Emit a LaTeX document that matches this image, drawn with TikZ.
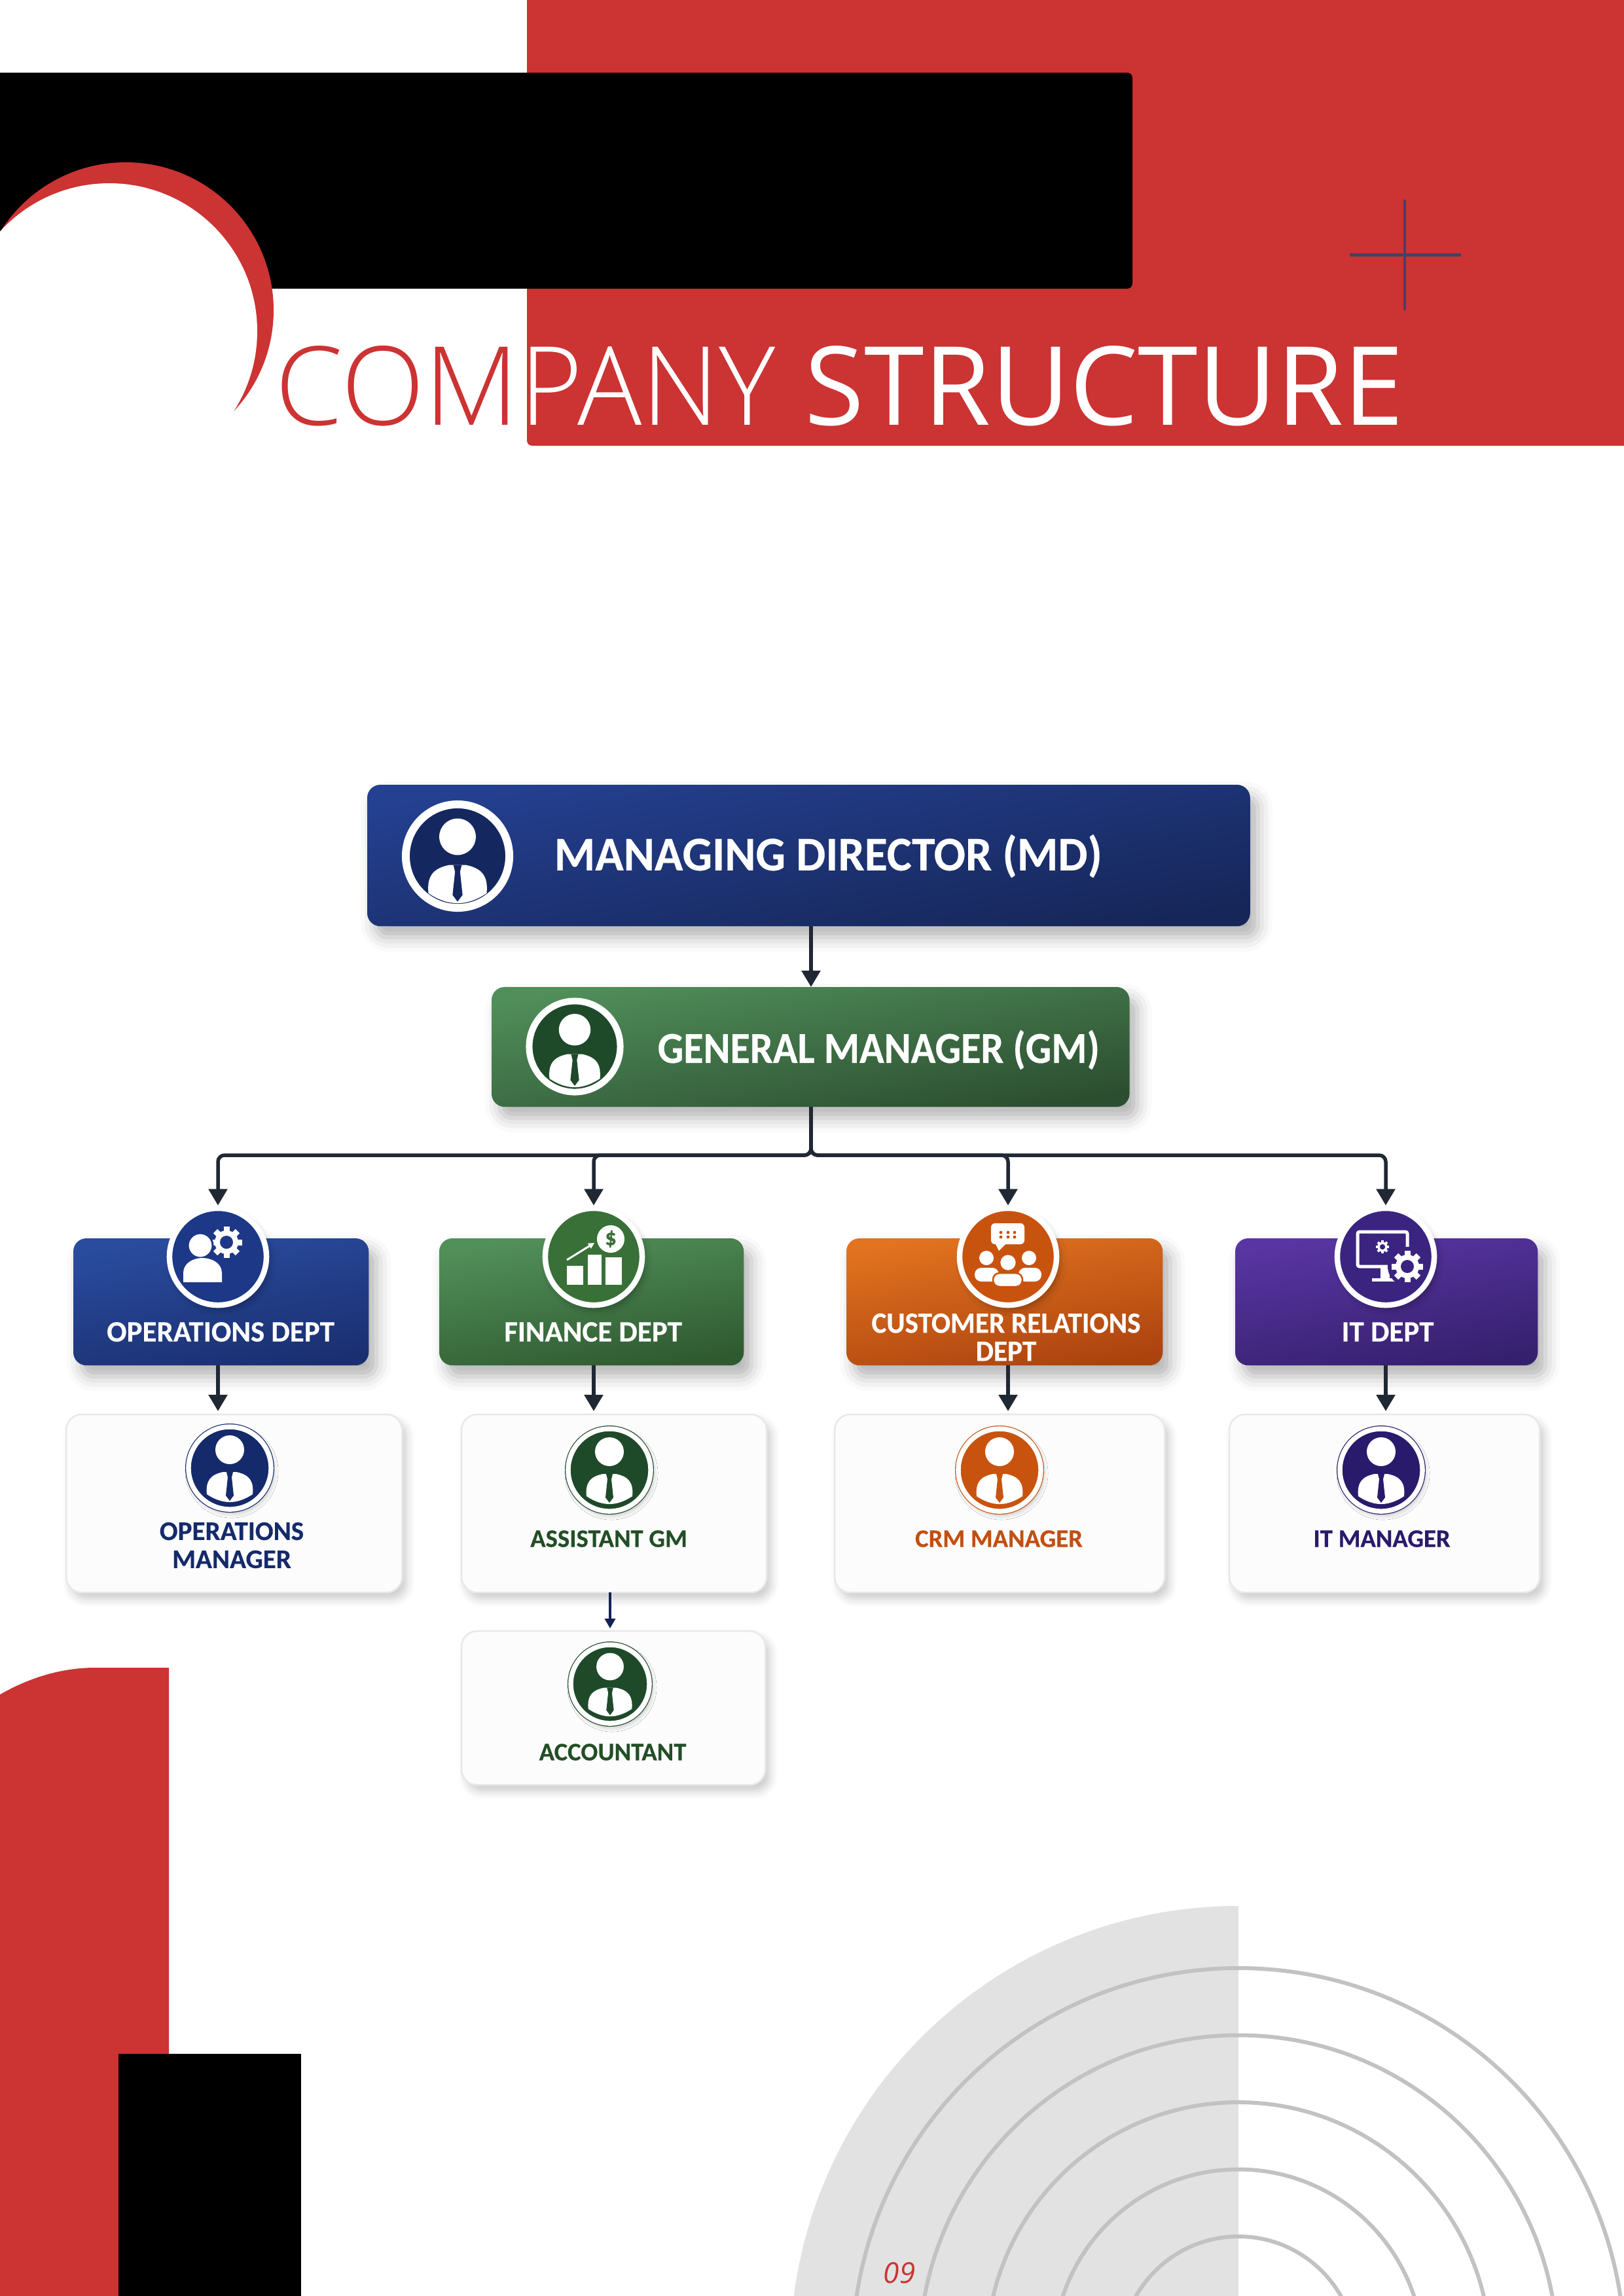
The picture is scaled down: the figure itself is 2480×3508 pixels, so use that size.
\documentclass[tikz,border=0pt]{standalone}
\usepackage{fontspec}
\setmainfont{Carlito}[BoldFeatures={FakeBold=0.3}]
\newfontfamily\titlefont{Open Sans Light}
\newfontfamily\plainfont{Open Sans}
\usetikzlibrary{arrows.meta, positioning, shapes.geometric, shadows.blur}

\begin{document}
\begin{tikzpicture}[
    x=0.01cm, y=-0.01cm,
    softshadow/.style={blur shadow={shadow xshift=0.12cm, shadow yshift=-0.17cm, shadow blur radius=0.22cm, shadow opacity=30}},
    topbox/.style n args={2}{
      rectangle, rounded corners=0.2cm, anchor=north west, outer sep=0pt,
      top color=#1, bottom color=#2, shading angle=10, softshadow
    },
    mgrbox/.style={
      rectangle, rounded corners=0.24cm, anchor=north west, outer sep=0pt,
      fill=white!99!black, draw=black!9, line width=0.025cm,
      blur shadow={shadow xshift=0.07cm, shadow yshift=-0.1cm, shadow blur radius=0.12cm, shadow opacity=20}
    },
    headring/.style={circle, draw=white, line width=0.12cm, fill=#1},
    deptring/.style={circle, draw=white, line width=0.085cm, fill=#1, minimum size=1.48cm,
      blur shadow={shadow xshift=0.05cm, shadow yshift=-0.07cm, shadow blur radius=0.1cm, shadow opacity=30}},
    mgrring/.style={
      circle, draw=#1, fill=#1, line width=0.012cm, double=white, double distance=0.075cm, minimum size=1.26cm,
      blur shadow={shadow xshift=0.03cm, shadow yshift=-0.05cm, shadow blur radius=0.08cm, shadow opacity=30}
    },
    toplabel/.style={font=\bfseries, text=white, inner sep=0pt, align=center},
    mgrlabel/.style={font=\bfseries\fontsize{11}{11.8}\selectfont, text=#1, inner sep=0pt, align=center},
    arr/.style={-{Triangle[length=0.25cm, width=0.28cm]}, draw=lineDark, line width=0.055cm},
    pics/person/.style={code={
      \fill[white] (0,-28) circle (22);
      \fill[white] (-35,40) .. controls (-37,20) and (-30,10) .. (-10,6) -- (10,6) .. controls (30,10) and (37,20) .. (35,40)
        .. controls (20,50) and (8,52) .. (0,52) .. controls (-8,52) and (-20,50) .. (-35,40) -- cycle;
      \fill[#1] (-5,6) -- (5,6) -- (3,14) -- (6,42) -- (0,50) -- (-6,42) -- (-3,14) -- cycle;
    }},
    pics/gearwheel/.style={code={
      \foreach \a in {0,45,...,315} {
        \fill[white, rotate=\a] (-4.5,-24) rectangle (4.5,-15);
      }
      \fill[white] (0,0) circle (18);
      \fill[#1] (0,0) circle (10);
    }}
  ]
    \definecolor{brandRed}{RGB}{204,51,51}
    \definecolor{crossInk}{RGB}{68,68,96}
    \definecolor{lineDark}{RGB}{32,40,52}
    \definecolor{navyTop}{RGB}{36,64,145}
    \definecolor{navyLow}{RGB}{22,38,88}
    \definecolor{navyFill}{RGB}{20,39,95}
    \definecolor{blueTop}{RGB}{42,76,159}
    \definecolor{blueLow}{RGB}{26,47,112}
    \definecolor{blueFill}{RGB}{28,56,135}
    \definecolor{blueInk}{RGB}{21,42,107}
    \definecolor{greenTop}{RGB}{80,142,90}
    \definecolor{greenLow}{RGB}{44,78,48}
    \definecolor{greenFill}{RGB}{31,74,42}
    \definecolor{financeTop}{RGB}{82,144,90}
    \definecolor{financeLow}{RGB}{47,90,48}
    \definecolor{financeFill}{RGB}{56,112,56}
    \definecolor{greenInk}{RGB}{35,78,38}
    \definecolor{orangeTop}{RGB}{226,115,31}
    \definecolor{orangeLow}{RGB}{172,67,15}
    \definecolor{orangeFill}{RGB}{200,83,15}
    \definecolor{orangeInk}{RGB}{194,79,16}
    \definecolor{purpleTop}{RGB}{89,53,163}
    \definecolor{purpleLow}{RGB}{53,32,109}
    \definecolor{purpleFill}{RGB}{58,36,128}
    \definecolor{purpleInk}{RGB}{42,26,108}
    \definecolor{ringGrey}{RGB}{194,194,194}
    \definecolor{discGrey}{RGB}{226,226,226}

    \useasboundingbox (0,0) rectangle (2480,3508);

    % header shapes
    \fill[brandRed, rounded corners=0.08cm] (805,-30) rectangle (2520,681);
    \fill[black, rounded corners=0.08cm] (-30,111) rectangle (1730,441);
    \fill[brandRed] (192,474) circle (226);
    \fill[white] (167,506) circle (226);
    \draw[crossInk, line width=0.032cm] (2146,305) -- (2146,474);
    \draw[crossInk, line width=0.05cm] (2062,389) -- (2232,389);

    \node[font=\titlefont\fontsize{47.5}{50}\selectfont, text=brandRed, inner sep=0pt, anchor=base west] (titlecom) at (420,649) {COM};
    \node[font=\titlefont\fontsize{47.5}{50}\selectfont\addfontfeature{FakeStretch=0.98}, text=white, inner sep=0pt, anchor=base west] (titlepany) at (titlecom.base east) {PANY};
    \node[font=\plainfont\fontsize{47.5}{50}\selectfont\addfontfeature{FakeStretch=0.99}, text=white, inner sep=0pt, anchor=base west] (titlestruct) at (1229,649) {STRUCTURE};

    % footer shapes
    \fill[brandRed] (0,2589) .. controls (45,2563) and (95,2548) .. (145,2548) -- (258,2548) -- (258,3520) -- (0,3520) -- cycle;
    \fill[black] (181,3138) rectangle (460,3520);

    \begin{scope}
      \clip (0,0) rectangle (1892,3508);
      \fill[discGrey] (1892,3597) circle (685);
    \end{scope}
    \begin{scope}
      \clip (0,0) rectangle (2480,3508);
      \foreach \r in {590,487.5,385,282.5,180} {
        \draw[ringGrey, line width=0.06cm] (1892,3597) circle (\r);
      }
    \end{scope}
    \node[font=\plainfont\itshape\fontsize{12.5}{14}\selectfont, text=brandRed, inner sep=0pt] (pageno) at (1374,3473) {09};

    % connectors sit under the boxes
    \coordinate (bus) at (1239,1765);

    % top level
    \node[topbox={navyTop}{navyLow}, minimum width=13.48cm, minimum height=2.16cm] (md) at (561,1199) {};
    \node[headring=navyFill, minimum size=1.58cm] (mdicon) at (699,1308) {};
    \pic[scale=1.27] at (699,1314) {person=navyFill};
    \node[toplabel, font=\bfseries\fontsize{21}{24}\selectfont\addfontfeature{FakeStretch=0.97}, anchor=west] (mdlabel) at (846,1308) {MANAGING DIRECTOR (MD)};

    \node[topbox={greenTop}{greenLow}, minimum width=9.74cm, minimum height=1.83cm] (gm) at (751,1508) {};
    \node[headring=greenFill, minimum size=1.39cm, line width=0.1cm] (gmicon) at (878,1599) {};
    \pic[scale=1.1] at (878,1604) {person=greenFill};
    \node[toplabel, font=\bfseries\fontsize{19.2}{22}\selectfont\addfontfeature{FakeStretch=0.92}, anchor=west] (gmlabel) at (1004,1604) {GENERAL MANAGER (GM)};

    % departments
    \node[topbox={blueTop}{blueLow}, minimum width=4.51cm, minimum height=1.94cm] (ops) at (112,1892) {};
    \node[topbox={financeTop}{financeLow}, minimum width=4.65cm, minimum height=1.94cm] (fin) at (671,1892) {};
    \node[topbox={orangeTop}{orangeLow}, minimum width=4.83cm, minimum height=1.94cm] (crm) at (1293,1892) {};
    \node[topbox={purpleTop}{purpleLow}, minimum width=4.62cm, minimum height=1.94cm] (itd) at (1887,1892) {};

    \node[deptring=blueFill] (opsicon) at (333,1920) {};
    \node[deptring=financeFill] (finicon) at (907,1920) {};
    \node[deptring=orangeFill] (crmicon) at (1540,1920) {};
    \node[deptring=purpleFill] (iticon) at (2117,1920) {};

    \node[toplabel, font=\bfseries\fontsize{12.8}{15.2}\selectfont] (opslabel) at (337,2035) {OPERATIONS DEPT};
    \node[toplabel, font=\bfseries\fontsize{12.8}{15.2}\selectfont] (finlabel) at (906,2035) {FINANCE DEPT};
    \node[toplabel, font=\bfseries\fontsize{12.8}{12.2}\selectfont\addfontfeature{FakeStretch=0.96}] (crmlabel) at (1537,2043) {CUSTOMER RELATIONS\\DEPT};
    \node[toplabel, font=\bfseries\fontsize{12.8}{15.2}\selectfont] (itlabel) at (2120,2035) {IT DEPT};

    % operations glyph
    \pic at (346,1898) {gearwheel=blueFill};
    \fill[white, draw=blueFill, line width=0.03cm] (306,1903) circle (19);
    \fill[white] (280,1959) -- (280,1945) .. controls (280,1930) and (295,1922) .. (309,1922) .. controls (324,1922) and (339,1930) .. (339,1945) -- (339,1959) -- cycle;

    % finance glyph
    \fill[white] (866,1934) rectangle (891,1963);
    \fill[white] (898,1917) rectangle (919,1963);
    \fill[white] (925,1921) rectangle (950,1963);
    \draw[white, line width=0.03cm, -{Triangle[length=0.09cm, width=0.09cm]}] (866,1925) -- (908,1899);
    \node[circle, fill=white, minimum size=0.42cm, inner sep=0pt, text=financeFill, font=\bfseries\fontsize{10}{10}\selectfont] (coin) at (933,1893) {\$};

    % customer glyph
    \fill[white, rounded corners=0.06cm] (1514,1869) rectangle (1565,1901);
    \fill[white] (1520,1899) -- (1526,1911) -- (1538,1899) -- cycle;
    \foreach \px in {1529,1540,1550} {
      \foreach \py in {1883,1890} {
        \fill[orangeFill] (\px,\py) circle (2.4);
      }
    }
    \fill[white] (1507,1922) circle (11);
    \fill[white] (1572,1922) circle (11);
    \fill[white, rounded corners=0.1cm] (1489,1958) -- (1489,1937) -- (1526,1937) -- (1526,1958) -- cycle;
    \fill[white, rounded corners=0.1cm] (1556,1958) -- (1556,1937) -- (1591,1937) -- (1591,1958) -- cycle;
    \fill[white, draw=orangeFill, line width=0.025cm] (1540,1929) circle (13);
    \fill[white, draw=orangeFill, line width=0.025cm, rounded corners=0.1cm] (1517,1966) -- (1517,1945) -- (1562,1945) -- (1562,1966) -- cycle;

    % it glyph
    \draw[white, line width=0.05cm, rounded corners=0.03cm] (2074,1882) rectangle (2150,1935);
    \fill[white] (2109,1937) rectangle (2123,1955);
    \fill[white] (2096,1953) rectangle (2134,1958);
    \pic[scale=0.42] at (2112,1905) {gearwheel=purpleFill};
    \fill[purpleFill] (2150,1935) circle (30);
    \pic at (2150,1935) {gearwheel=purpleFill};

    % managers
    \node[mgrbox, minimum width=5.13cm, minimum height=2.72cm] (opsmgr) at (101,2161) {};
    \node[mgrbox, minimum width=4.66cm, minimum height=2.72cm] (finmgr) at (705,2161) {};
    \node[mgrbox, minimum width=5.04cm, minimum height=2.72cm] (crmmgr) at (1275,2161) {};
    \node[mgrbox, minimum width=4.74cm, minimum height=2.72cm] (itmgr) at (1878,2161) {};
    \node[mgrbox, minimum width=4.64cm, minimum height=2.35cm] (acct) at (705,2492) {};

    \node[mgrring=blueInk] (opsmgricon) at (351,2243) {};
    \node[mgrring=greenFill] (finmgricon) at (931,2246) {};
    \node[mgrring=orangeFill] (crmmgricon) at (1527,2246) {};
    \node[mgrring=purpleInk] (itmgricon) at (2110,2246) {};
    \node[mgrring=greenFill, minimum size=1.2cm] (accticon) at (932,2573) {};

    \pic at (351,2243) {person=blueInk};
    \pic at (931,2246) {person=greenFill};
    \pic at (1527,2246) {person=orangeFill};
    \pic at (2110,2246) {person=purpleInk};
    \pic[scale=0.95] at (932,2573) {person=greenFill};

    \node[mgrlabel=blueInk, font=\bfseries\fontsize{11.7}{12.2}\selectfont] (opsmgrlabel) at (354,2361) {OPERATIONS\\MANAGER};
    \node[mgrlabel=greenInk] (finmgrlabel) at (930,2351) {ASSISTANT GM};
    \node[mgrlabel=orangeInk] (crmmgrlabel) at (1526,2351) {CRM MANAGER};
    \node[mgrlabel=purpleInk] (itmgrlabel) at (2111,2351) {IT MANAGER};
    \node[mgrlabel=greenInk] (acctlabel) at (936,2677) {ACCOUNTANT};

    % connectors
    \draw[arr] (md.south -| bus) -- (gm.north -| bus);
    \draw[arr, rounded corners=0.1cm] (gm.south -| bus) -- (bus) -| (opsicon.north);
    \draw[arr, rounded corners=0.1cm] (gm.south -| bus) -- (bus) -| (finicon.north);
    \draw[arr, rounded corners=0.1cm] (gm.south -| bus) -- (bus) -| (crmicon.north);
    \draw[arr, rounded corners=0.1cm] (gm.south -| bus) -- (bus) -| (iticon.north);

    \draw[arr, shorten >=0.05cm] (opsicon |- ops.south) -- (opsicon |- opsmgr.north);
    \draw[arr, shorten >=0.05cm] (finicon |- fin.south) -- (finicon |- finmgr.north);
    \draw[arr, shorten >=0.05cm] (crmicon |- crm.south) -- (crmicon |- crmmgr.north);
    \draw[arr, shorten >=0.05cm] (iticon |- itd.south) -- (iticon |- itmgr.north);
    \draw[-{Triangle[length=0.15cm, width=0.16cm]}, draw=blueInk!80!black, fill=blueInk!80!black, line width=0.035cm, shorten >=0.04cm] (accticon |- finmgr.south) -- (accticon |- acct.north);
  \end{tikzpicture}
\end{document}
